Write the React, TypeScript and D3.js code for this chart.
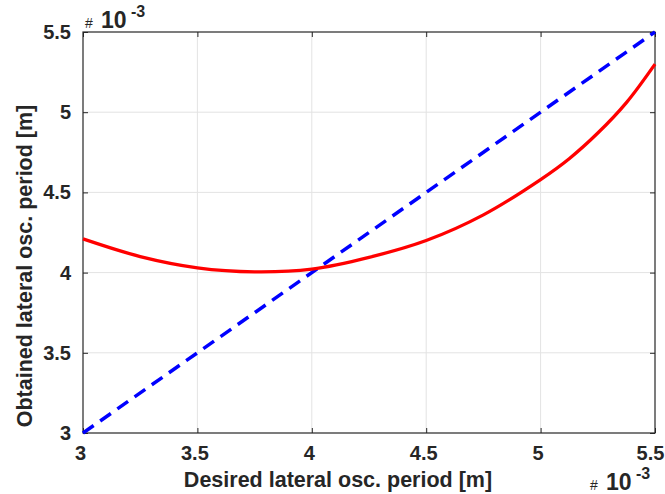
import React, { useRef, useEffect } from "react";
import * as d3 from "d3";

// desired lateral oscillation period (x 10^-3 m)
const desired = [3.0, 3.25, 3.5, 3.75, 4.0, 4.25, 4.5, 4.75, 5.0, 5.125, 5.25, 5.375, 5.5];
// obtained lateral oscillation period (x 10^-3 m)
const obtained = [4.21, 4.1, 4.03, 4.005, 4.022, 4.095, 4.2, 4.36, 4.58, 4.71, 4.87, 5.06, 5.3];
// ideal line y = x
const idealX = [3.0, 5.5];
const idealY = [3.0, 5.5];

const xTicks = [3, 3.5, 4, 4.5, 5, 5.5];
const yTicks = [3, 3.5, 4, 4.5, 5, 5.5];

const width = 665;
const height = 494;
const margin = { top: 32, right: 10, bottom: 61, left: 83 };
const font = "'Liberation Sans', Arial, Helvetica, sans-serif";

const App = () => {
  const svgRef = useRef(null);

  useEffect(() => {
    d3.select(svgRef.current).selectAll("*").remove();
    const svg = d3.select(svgRef.current);

    const innerWidth = width - margin.left - margin.right;
    const innerHeight = height - margin.top - margin.bottom;

    const x = d3.scaleLinear().domain([3, 5.5]).range([0, innerWidth]);
    const y = d3.scaleLinear().domain([3, 5.5]).range([innerHeight, 0]);

    const g = svg.append("g")
      .attr("transform", `translate(${margin.left}, ${margin.top})`);

    g.append("rect")
      .attr("width", innerWidth)
      .attr("height", innerHeight)
      .attr("fill", "#fff");

    // grid
    g.append("g")
      .selectAll("line")
      .data(xTicks.slice(1, -1))
      .enter()
      .append("line")
      .attr("x1", d => x(d)).attr("x2", d => x(d))
      .attr("y1", 0).attr("y2", innerHeight)
      .attr("stroke", "#e3e3e3").attr("stroke-width", 1);

    g.append("g")
      .selectAll("line")
      .data(yTicks.slice(1, -1))
      .enter()
      .append("line")
      .attr("y1", d => y(d)).attr("y2", d => y(d))
      .attr("x1", 0).attr("x2", innerWidth)
      .attr("stroke", "#e3e3e3").attr("stroke-width", 1);

    const styleAxis = (ax) => {
      ax.select(".domain").remove();
      ax.selectAll("line").attr("stroke", "#262626");
      ax.selectAll("text")
        .attr("fill", "#262626")
        .style("font-family", font)
        .style("font-weight", "bold")
        .style("font-size", "20px");
    };

    const xAxis = g.append("g")
      .attr("transform", `translate(0, ${innerHeight})`)
      .call(d3.axisBottom(x).tickValues(xTicks).tickFormat(d3.format("")).tickSizeInner(-5).tickPadding(13));
    styleAxis(xAxis);
    xAxis.selectAll("text").attr("dx", (d) => (d === 5.5 ? -5 : -3));

    const xAxisTop = g.append("g")
      .call(d3.axisTop(x).tickValues(xTicks).tickFormat("").tickSizeInner(-5));
    styleAxis(xAxisTop);

    const yAxis = g.append("g")
      .call(d3.axisLeft(y).tickValues(yTicks).tickFormat(d3.format("")).tickSizeInner(-5).tickPadding(12));
    styleAxis(yAxis);

    const yAxisRight = g.append("g")
      .attr("transform", `translate(${innerWidth}, 0)`)
      .call(d3.axisRight(y).tickValues(yTicks).tickFormat("").tickSizeInner(-5));
    styleAxis(yAxisRight);

    // box
    g.append("rect")
      .attr("width", innerWidth)
      .attr("height", innerHeight)
      .attr("fill", "none")
      .attr("stroke", "#262626")
      .attr("stroke-width", 1.2);

    // ideal dashed line
    const ideal = idealX.map((d, i) => [d, idealY[i]]);
    g.append("path")
      .datum(ideal)
      .attr("d", d3.line().x(d => x(d[0])).y(d => y(d[1])))
      .attr("fill", "none")
      .attr("stroke", "#0000ff")
      .attr("stroke-width", 3.5)
      .attr("stroke-dasharray", "13 8");

    // obtained curve
    const pts = desired.map((d, i) => [d, obtained[i]]);
    g.append("path")
      .datum(pts)
      .attr("d", d3.line().curve(d3.curveCatmullRom).x(d => x(d[0])).y(d => y(d[1])))
      .attr("fill", "none")
      .attr("stroke", "#ff0000")
      .attr("stroke-width", 3.3);

    // axis labels
    svg.append("text")
      .attr("x", 338)
      .attr("y", 487)
      .attr("text-anchor", "middle")
      .attr("fill", "#262626")
      .style("font-family", font)
      .style("font-weight", "bold")
      .style("font-size", "21.5px")
      .text("Desired lateral osc. period [m]");

    svg.append("text")
      .attr("transform", `translate(32, 266) rotate(-90)`)
      .attr("text-anchor", "middle")
      .attr("fill", "#262626")
      .style("font-family", font)
      .style("font-weight", "bold")
      .style("font-size", "21.5px")
      .text("Obtained lateral osc. period [m]");

    // exponent labels
    const exponent = (x0, y0) => {
      const t = svg.append("text")
        .attr("y", y0)
        .attr("fill", "#262626")
        .style("font-family", font);
      t.append("tspan").attr("x", x0).style("font-size", "14px").text("#");
      t.append("tspan").attr("x", x0 + 16).style("font-size", "23px").style("font-weight", "bold").text("10");
      t.append("tspan").attr("x", x0 + 46).attr("dy", -11).style("font-size", "16px").style("font-weight", "bold").text("-3");
    };
    exponent(85, 28);
    exponent(590, 490);
  }, []);

  return (
    <svg
      ref={svgRef}
      width={width}
      height={height}
      style={{ position: "absolute", left: 0, top: 0, background: "#fff" }}
    ></svg>
  );
};

export default App;
